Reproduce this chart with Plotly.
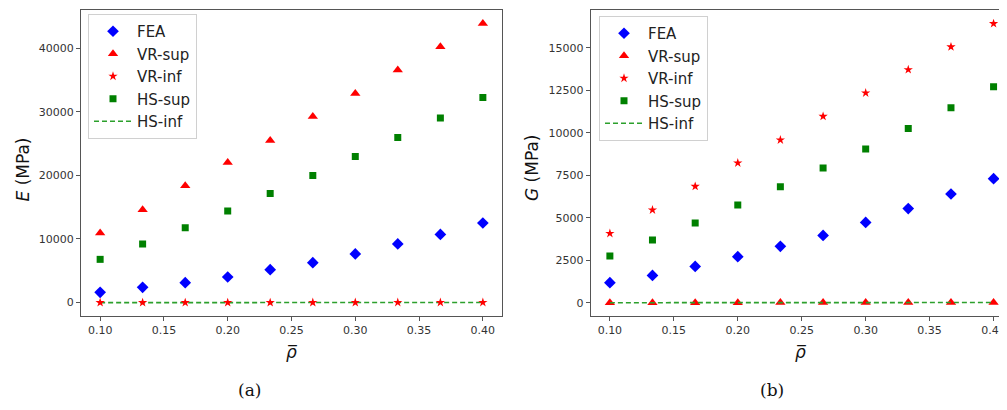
import plotly.graph_objects as go

# ---- data ----
rho = [0.10, 0.1333, 0.1667, 0.20, 0.2333, 0.2667, 0.30, 0.3333, 0.3667, 0.40]

E_fea = [1620, 2400, 3140, 4030, 5180, 6280, 7650, 9220, 10720, 12510]
E_vr_sup = [10940, 14600, 18370, 22030, 25480, 29250, 32860, 36530, 40190, 43850]
E_vr_inf = [8, 10, 12, 14, 16, 18, 20, 22, 24, 26]
E_hs_sup = [6800, 9220, 11770, 14400, 17160, 19980, 22950, 25950, 28990, 32230]
E_hs_inf = [5, 6, 7, 8, 9, 10, 11, 12, 13, 14]

G_fea = [1180, 1610, 2140, 2710, 3320, 3960, 4730, 5540, 6400, 7300]
G_vr_sup = [4, 5, 6, 7, 8, 9, 10, 11, 12, 13]
G_vr_inf = [4080, 5460, 6850, 8230, 9580, 10970, 12350, 13720, 15060, 16430]
G_hs_sup = [2750, 3690, 4690, 5750, 6830, 7930, 9050, 10250, 11480, 12720]
G_hs_inf = [3, 4, 5, 6, 7, 8, 9, 10, 11, 12]

x_ticks = [0.10, 0.15, 0.20, 0.25, 0.30, 0.35, 0.40]
E_ticks = [0, 10000, 20000, 30000, 40000]
G_ticks = [0, 2500, 5000, 7500, 10000, 12500, 15000]

names = ["FEA", "VR-sup", "VR-inf", "HS-sup", "HS-inf"]

# page body has an 8px margin; figure sized so that it fills the 1007x410 window
OFF = 8
W, H = 1007 - OFF, 410 - OFF
FONT = "DejaVu Sans"


def px(x):
    return (x - OFF) / W


def py(y):
    return 1 - (y - OFF) / H


fig = go.Figure()


def add_set(xa, ya, leg, fea, vsup, vinf, hsup, hinf):
    fig.add_trace(go.Scatter(x=rho, y=fea, mode="markers", name=names[0],
                             marker=dict(symbol="diamond", size=9, color="#0000ff"),
                             xaxis=xa, yaxis=ya, legend=leg))
    fig.add_trace(go.Scatter(x=rho, y=vsup, mode="markers", name=names[1],
                             marker=dict(symbol="triangle-up", size=9, color="#ff0000"),
                             xaxis=xa, yaxis=ya, legend=leg))
    fig.add_trace(go.Scatter(x=rho, y=hinf, mode="lines", name=names[4],
                             line=dict(color="#2ca02c", width=1.6, dash="5px,3px"),
                             xaxis=xa, yaxis=ya, legend=leg, showlegend=False))
    fig.add_trace(go.Scatter(x=rho, y=vinf, mode="markers", name=names[2],
                             marker=dict(symbol="star", size=7, color="#ff0000"),
                             xaxis=xa, yaxis=ya, legend=leg))
    fig.add_trace(go.Scatter(x=rho, y=hsup, mode="markers", name=names[3],
                             marker=dict(symbol="square", size=7, color="#008000"),
                             xaxis=xa, yaxis=ya, legend=leg))
    fig.add_trace(go.Scatter(x=[None], y=[None], mode="lines", name=names[4],
                             line=dict(color="#2ca02c", width=1.6, dash="5px,3px"),
                             xaxis=xa, yaxis=ya, legend=leg))


add_set("x", "y", "legend", E_fea, E_vr_sup, E_vr_inf, E_hs_sup, E_hs_inf)
add_set("x2", "y2", "legend2", G_fea, G_vr_sup, G_vr_inf, G_hs_sup, G_hs_inf)

ydom = [py(316), py(9.5)]
axis_common = dict(showgrid=False, zeroline=False, showline=True, linecolor="#555555",
                   linewidth=1.2, ticks="outside", ticklen=4, tickwidth=1,
                   tickcolor="#555555", tickfont=dict(family=FONT, size=11, color="#333333"))

legend_common = dict(font=dict(family=FONT, size=15, color="#222222"),
                     bgcolor="rgba(255,255,255,0.85)", bordercolor="#d0d0d0", borderwidth=1,
                     xanchor="left", yanchor="top", tracegroupgap=0, itemwidth=38)

fig.update_layout(
    width=W, height=H,
    margin=dict(l=0, r=0, t=0, b=0),
    paper_bgcolor="white", plot_bgcolor="white",
    xaxis=dict(domain=[px(81), px(502)], range=[0.085, 0.415], tickvals=x_ticks,
               tickformat=".2f", mirror=True, anchor="y", **axis_common),
    yaxis=dict(domain=ydom, range=[-2100, 46050], tickvals=E_ticks, tickformat="d",
               mirror=True, anchor="x", **axis_common),
    xaxis2=dict(domain=[px(590.7), 1.0], range=[0.085, 0.4105], tickvals=x_ticks,
                tickformat=".2f", mirror=True, anchor="y2", **axis_common),
    yaxis2=dict(domain=ydom, range=[-780, 17260], tickvals=G_ticks, tickformat="d",
                mirror=False, anchor="x2", **axis_common),
    legend=dict(x=px(88), y=py(14), **legend_common),
    legend2=dict(x=px(599), y=py(16), **legend_common),
    showlegend=True,
)

ann_font = dict(family=FONT, size=17, color="#111111")
common_ann = dict(xref="paper", yref="paper", showarrow=False, xanchor="center",
                  yanchor="middle")
# y-axis titles
fig.add_annotation(text="<i>E</i> (MPa)", x=px(22.5), y=py(170), textangle=-90,
                   font=ann_font, **common_ann)
fig.add_annotation(text="<i>G</i> (MPa)", x=px(532), y=py(168), textangle=-90,
                   font=ann_font, **common_ann)
# x-axis titles
fig.add_annotation(text="<i>ρ\u0305</i>", x=px(291.5), y=py(352), font=ann_font, **common_ann)
fig.add_annotation(text="<i>ρ\u0305</i>", x=px(801), y=py(352), font=ann_font, **common_ann)
# captions
cap_font = dict(family="DejaVu Serif", size=17, color="#111111")
fig.add_annotation(text="(a)", x=px(249), y=py(390), font=cap_font, **common_ann)
fig.add_annotation(text="(b)", x=px(772), y=py(390), font=cap_font, **common_ann)

fig.write_html("out.html")
